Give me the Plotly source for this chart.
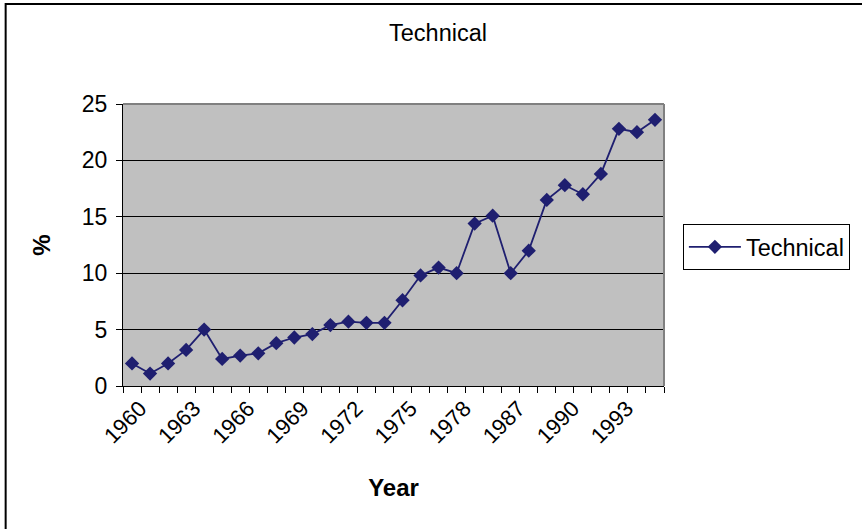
import plotly.graph_objects as go

years = ["1960", "1961", "1962", "1963", "1964", "1965", "1966", "1967", "1968", "1969",
         "1970", "1971", "1972", "1973", "1974", "1975", "1976", "1977", "1978", "1980",
         "1985", "1987", "1988", "1989", "1990", "1991", "1992", "1993", "1994", "1995"]
technical = [2.0, 1.1, 2.0, 3.2, 5.0, 2.4, 2.7, 2.9, 3.8, 4.3,
             4.6, 5.4, 5.7, 5.6, 5.6, 7.6, 9.8, 10.5, 10.0, 14.4,
             15.1, 10.0, 12.0, 16.5, 17.8, 17.0, 18.8, 22.8, 22.5, 23.6]
tick_labels = [y if i % 3 == 0 else "" for i, y in enumerate(years)]
y_ticks = [0, 5, 10, 15, 20, 25]

W, H = 862, 529
L, R, T, B = 123, 195, 104, 143
pw, ph = W - L - R, H - T - B

def px(x):
    return (x - L) / pw

def py(y):
    return (H - B - y) / ph

FONT = "Liberation Sans, Arial, sans-serif"
navy = "#1f1f70"

fig = go.Figure()
fig.add_trace(go.Scatter(
    x=years, y=technical, mode="lines+markers", name="Technical",
    line=dict(color=navy, width=1.8),
    marker=dict(symbol="diamond", size=11, color=navy),
))

fig.update_layout(
    width=W, height=H,
    margin=dict(l=L, r=R, t=T, b=B),
    paper_bgcolor="white",
    plot_bgcolor="#c0c0c0",
    font=dict(family=FONT, size=22, color="black"),
    title=dict(text="Technical", x=438 / W, xanchor="center", xref="container",
               y=1 - 33 / H, yanchor="middle", font=dict(size=23.5)),
    showlegend=True,
    legend=dict(x=px(686), y=py(224), xanchor="left", yanchor="top",
                bordercolor="black", borderwidth=1, bgcolor="white",
                font=dict(size=23.5), itemwidth=52),
    xaxis=dict(type="category", tickmode="array", tickvals=years, ticktext=tick_labels,
               tickangle=-45, tickson="boundaries", ticks="outside", ticklen=6,
               tickcolor="black", showline=True, linecolor="black", linewidth=1,
               showgrid=False, zeroline=False, range=[-0.5, len(years) - 0.5],
               tickfont=dict(size=22), ticklabelshift=8,
               title=dict(text="<b>Year</b>", font=dict(size=24), standoff=31)),
    yaxis=dict(range=[0, 25], tickmode="array", tickvals=y_ticks,
               ticks="outside", ticklen=6, tickcolor="black",
               showline=True, linecolor="black", linewidth=1,
               showgrid=True, gridcolor="black", gridwidth=1, zeroline=False,
               tickfont=dict(size=23), ticklabelstandoff=4,
               title=dict(text="<b>%</b>", font=dict(size=24), standoff=24)),
)

# plot area gray border (top/right)
fig.add_shape(type="line", xref="paper", yref="paper", x0=0, x1=1, y0=1, y1=1,
              line=dict(color="#808080", width=2), layer="above")
fig.add_shape(type="line", xref="paper", yref="paper", x0=1, x1=1, y0=0, y1=1,
              line=dict(color="#808080", width=2), layer="above")
# chart area border
fig.add_shape(type="rect", xref="paper", yref="paper",
              x0=px(5), x1=px(W + 20), y0=py(H + 20), y1=py(4),
              line=dict(color="black", width=2), fillcolor="rgba(0,0,0,0)", layer="above")

fig.write_html("out.html", config={"displayModeBar": False},
               post_script="document.body.style.margin='0';document.body.style.overflow='hidden';")
